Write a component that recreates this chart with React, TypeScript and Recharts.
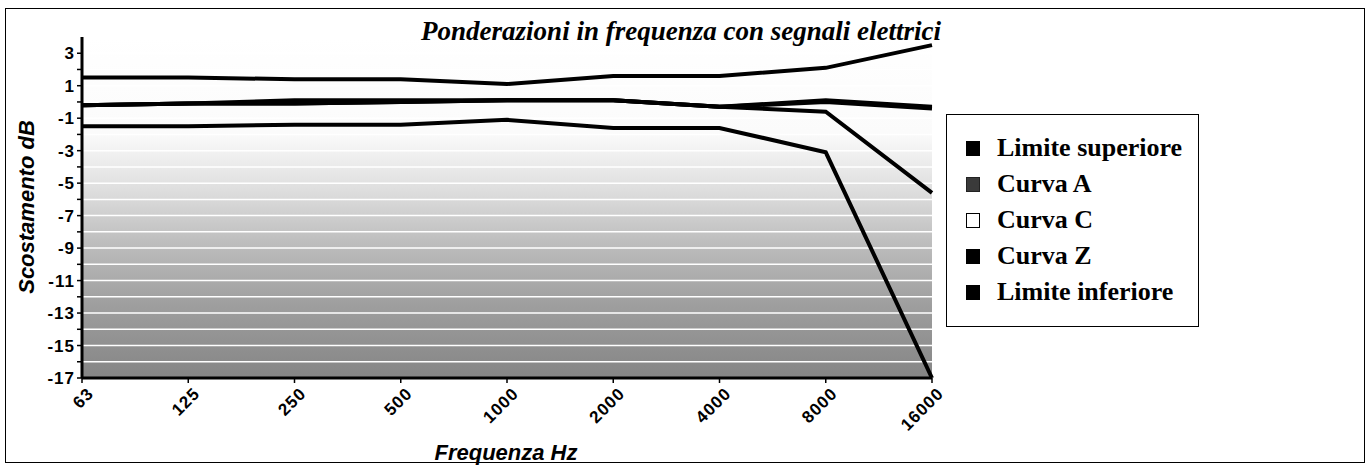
import { LineChart, Line, XAxis, YAxis, CartesianGrid, Legend } from 'recharts';

// frequenze di prova (Hz)
const FREQUENCIES = ['63', '125', '250', '500', '1000', '2000', '4000', '8000', '16000'];

// tolleranze classe 1 e scostamenti misurati (dB)
const LIMITE_SUPERIORE = [1.5, 1.5, 1.4, 1.4, 1.1, 1.6, 1.6, 2.1, 3.5];
const CURVA_A = [-0.2, -0.1, 0.1, 0.1, 0.1, 0.1, -0.3, -0.6, -5.6];
const CURVA_C = [-0.2, -0.1, -0.1, 0.0, 0.1, 0.1, -0.3, 0.0, -0.4];
const CURVA_Z = [-0.2, -0.1, -0.1, 0.0, 0.1, 0.1, -0.3, 0.1, -0.3];
const LIMITE_INFERIORE = [-1.5, -1.5, -1.4, -1.4, -1.1, -1.6, -1.6, -3.1, -17];

const SERIES_NAMES = ['Limite superiore', 'Curva A', 'Curva C', 'Curva Z', 'Limite inferiore'];
const Y_TICKS = [-17, -16, -15, -14, -13, -12, -11, -10, -9, -8, -7, -6, -5, -4, -3, -2, -1, 0, 1, 2, 3];
const GRID_VALUES = [-16, -15, -14, -13, -12, -11, -10, -9, -8, -7, -6, -5, -4, -3, -2, -1, 0, 1, 2, 3];

const data = FREQUENCIES.map((f, i) => ({
  freq: f,
  sup: LIMITE_SUPERIORE[i],
  a: CURVA_A[i],
  c: CURVA_C[i],
  z: CURVA_Z[i],
  inf: LIMITE_INFERIORE[i],
}));

// riquadri della legenda
const SWATCH: Record<string, { fill: string; stroke: string }> = {
  'Limite superiore': { fill: '#000', stroke: '#000' },
  'Curva A': { fill: '#3a3a3a', stroke: '#222' },
  'Curva C': { fill: '#fff', stroke: '#000' },
  'Curva Z': { fill: '#000', stroke: '#000' },
  'Limite inferiore': { fill: '#000', stroke: '#000' },
};

const tickFont = {
  fontFamily: '"Liberation Sans", Arial, sans-serif',
  fontWeight: 700,
  fontSize: 17,
  letterSpacing: 1,
  fill: '#000',
};

const YTick = ({ x, y, payload }: any) => {
  if (Math.abs(payload.value) % 2 !== 1) return <g />;
  return (
    <text x={x} y={y} dy={6} textAnchor="end" {...tickFont}>
      {payload.value}
    </text>
  );
};

const XTick = ({ x, y, payload }: any) => (
  <g transform={`translate(${x + 4},${y + 1}) rotate(-45)`}>
    <text x={0} y={0} dy="0.72em" textAnchor="end" {...tickFont}>
      {payload.value}
    </text>
  </g>
);

const LegendBox = () => (
  <div
    style={{
      width: 253,
      height: 213,
      boxSizing: 'border-box',
      border: '1px solid #000',
      background: '#fff',
      paddingTop: 15,
    }}
  >
    {SERIES_NAMES.map(name => (
      <div key={name} style={{ display: 'flex', alignItems: 'center', height: 36 }}>
        <span
          style={{
            display: 'inline-block',
            width: 12,
            height: 13,
            marginLeft: 19,
            marginRight: 17,
            background: SWATCH[name].fill,
            border: `1px solid ${SWATCH[name].stroke}`,
          }}
        />
        <span
          style={{
            fontFamily: '"Liberation Serif", "Times New Roman", serif',
            fontWeight: 700,
            fontSize: 26,
            color: '#000',
          }}
        >
          {name}
        </span>
      </div>
    ))}
  </div>
);

const lineProps = {
  type: 'linear' as const,
  stroke: '#000',
  strokeWidth: 4,
  dot: false,
  activeDot: false,
  isAnimationActive: false,
};

export default function App() {
  return (
    <div
      style={{
        position: 'absolute',
        left: 5,
        top: 8,
        width: 1360,
        height: 455,
        border: '1px solid #000',
        boxSizing: 'border-box',
        background: '#fff',
      }}
    >
      <LineChart width={1358} height={453} data={data} margin={{ top: 28, right: 432, bottom: 0, left: 0 }}>
        <defs>
          <linearGradient id="plotBg" x1="0" y1="0" x2="0" y2="1">
            <stop offset="0%" stopColor="#ffffff" />
            <stop offset="28%" stopColor="#fbfbfb" />
            <stop offset="45%" stopColor="#dedede" />
            <stop offset="60%" stopColor="#bebebe" />
            <stop offset="78%" stopColor="#9f9f9f" />
            <stop offset="100%" stopColor="#858585" />
          </linearGradient>
        </defs>
        <CartesianGrid
          vertical={false}
          horizontalValues={GRID_VALUES}
          stroke="#ffffff"
          strokeWidth={1.5}
          fill="url(#plotBg)"
          fillOpacity={1}
        />
        <XAxis
          dataKey="freq"
          height={84}
          interval={0}
          tick={<XTick />}
          tickSize={5}
          axisLine={{ stroke: '#000', strokeWidth: 3 }}
          tickLine={{ stroke: '#000', strokeWidth: 1.5 }}
        />
        <YAxis
          width={76}
          domain={[-17, 4]}
          ticks={Y_TICKS}
          interval={0}
          allowDataOverflow
          tick={<YTick />}
          tickSize={5}
          axisLine={{ stroke: '#000', strokeWidth: 3 }}
          tickLine={{ stroke: '#000', strokeWidth: 1.5 }}
        />
        <Legend
          layout="vertical"
          align="center"
          verticalAlign="middle"
          content={<LegendBox />}
          wrapperStyle={{ left: 940, top: 105, width: 253, height: 213 }}
        />
        <Line {...lineProps} dataKey="sup" name={SERIES_NAMES[0]} />
        <Line {...lineProps} dataKey="a" name={SERIES_NAMES[1]} />
        <Line {...lineProps} dataKey="c" name={SERIES_NAMES[2]} />
        <Line {...lineProps} dataKey="z" name={SERIES_NAMES[3]} />
        <Line {...lineProps} dataKey="inf" name={SERIES_NAMES[4]} />
      </LineChart>

      <div
        style={{
          position: 'absolute',
          zIndex: 2,
          left: 675,
          top: 7,
          transform: 'translateX(-50%)',
          whiteSpace: 'nowrap',
          fontFamily: '"Liberation Serif", "Times New Roman", serif',
          fontWeight: 700,
          fontStyle: 'italic',
          fontSize: 27,
          lineHeight: '30px',
          color: '#000',
        }}
      >
        Ponderazioni in frequenza con segnali elettrici
      </div>
      <div
        style={{
          position: 'absolute',
          zIndex: 2,
          left: 21,
          top: 198,
          transform: 'translate(-50%, -50%) rotate(-90deg)',
          whiteSpace: 'nowrap',
          fontFamily: '"Liberation Sans", Arial, sans-serif',
          fontWeight: 700,
          fontStyle: 'italic',
          fontSize: 22,
          color: '#000',
        }}
      >
        Scostamento dB
      </div>
      <div
        style={{
          position: 'absolute',
          zIndex: 2,
          left: 500,
          top: 431,
          transform: 'translateX(-50%)',
          whiteSpace: 'nowrap',
          fontFamily: '"Liberation Sans", Arial, sans-serif',
          fontWeight: 700,
          fontStyle: 'italic',
          fontSize: 22,
          lineHeight: '26px',
          color: '#000',
        }}
      >
        Frequenza Hz
      </div>
    </div>
  );
}
